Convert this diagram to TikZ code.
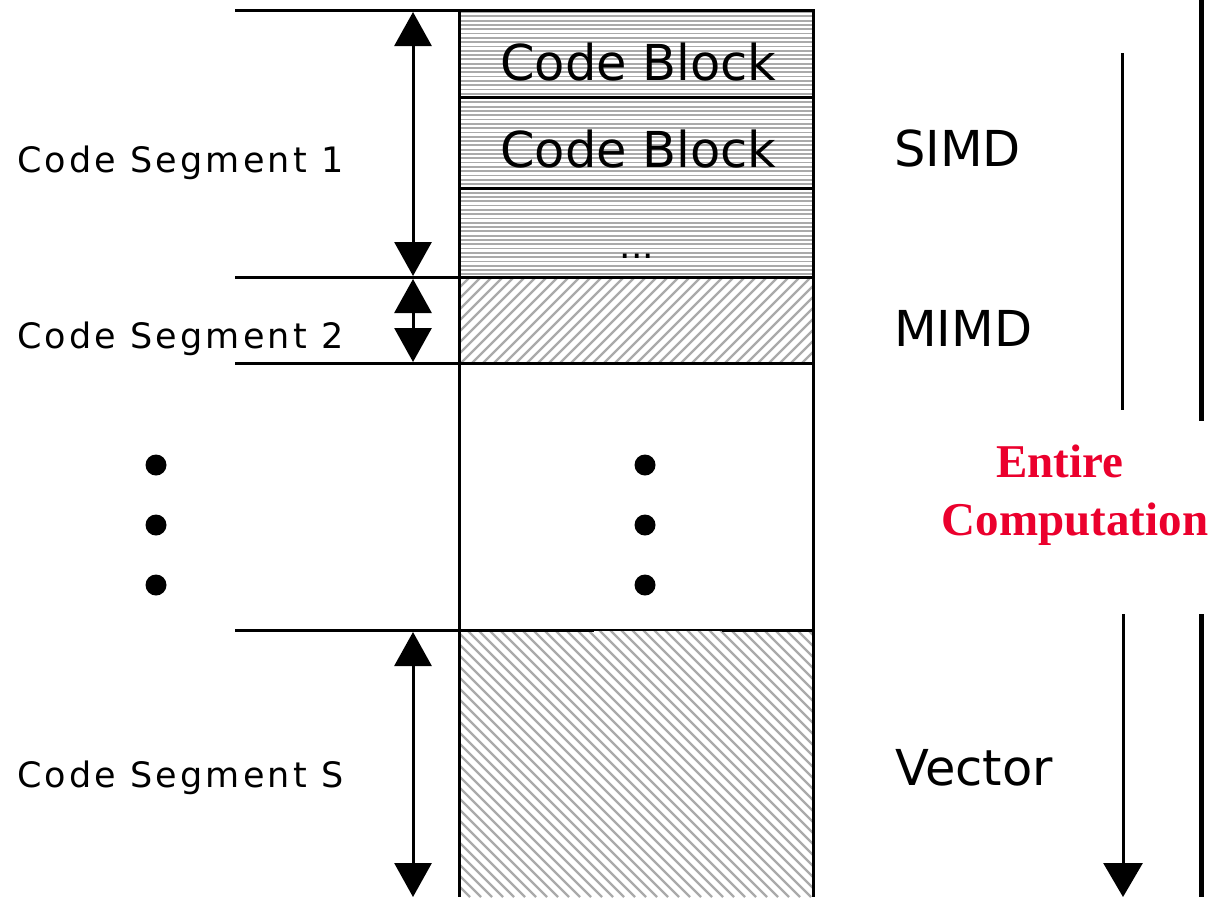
\documentclass[tikz,border=0pt]{standalone}
\usepackage{fontspec}
\usetikzlibrary{arrows.meta}
\newfontfamily\segfont[LetterSpace=9]{DejaVu Sans}
\newfontfamily\vfont{DejaVu Sans}
\newfontfamily\tfont{Liberation Serif}
\definecolor{ecred}{RGB}{235,0,45}
\definecolor{hatch}{RGB}{170,170,170}
\tikzset{
  rule/.style={line width=3pt, line cap=rect},
  bar/.style={line width=5pt},
  dim/.style={line width=3pt, {Triangle[length=34pt,width=37pt]}-{Triangle[length=34pt,width=37pt]}},
  flow/.style={line width=3pt, -{Triangle[length=34pt,width=39pt]}},
  seglabel/.style={anchor=base west, inner sep=0pt, font=\segfont\fontsize{35}{42}\selectfont},
  biglabel/.style={anchor=base west, inner sep=0pt, font=\vfont\fontsize{49.5}{58}\selectfont},
  redlabel/.style={anchor=base, inner sep=0pt, text=ecred, font=\tfont\bfseries\fontsize{47}{56}\selectfont},
  hline/.style={line width=1.8pt, draw=hatch},
  dot/.style={circle, fill=black, minimum size=21pt, inner sep=0pt}
}
\begin{document}
\begin{tikzpicture}[x=1pt,y=-1pt]
\useasboundingbox (0,0) rectangle (1222,897);
% hatching: SIMD blocks
\begin{scope}
\clip (459,10) rectangle (813,277);
\foreach \i in {0,...,62} { \draw[hline] (459,{12+4.3*\i}) -- (813,{12+4.3*\i}); }
\end{scope}
% hatching: MIMD segment
\begin{scope}
\clip (459,277) rectangle (813,363);
\foreach \i in {0,...,45} { \draw[hline,line width=2.2pt] ({373+11*\i},363) -- ({459+11*\i},277); }
\end{scope}
% hatching: Vector segment
\begin{scope}
\clip (459,630) rectangle (813,897);
\foreach \i in {0,...,60} { \draw[hline,line width=2.2pt] ({192+11*\i},630) -- ({459+11*\i},897); }
\end{scope}
% named coordinates
\coordinate (tl) at (236,10);   \coordinate (tr) at (813,10);
\coordinate (b1l) at (459,97);  \coordinate (b1r) at (813,97);
\coordinate (b2l) at (459,188); \coordinate (b2r) at (813,188);
\coordinate (s2l) at (236,277); \coordinate (s2r) at (813,277);
\coordinate (s3l) at (236,363); \coordinate (s3r) at (813,363);
\coordinate (sSl) at (236,630); \coordinate (gapA) at (592,630); \coordinate (gapB) at (723,630); \coordinate (sSr) at (813,630);
\coordinate (colLt) at (459,10); \coordinate (colLb) at (459,897);
\coordinate (colRt) at (813,10); \coordinate (colRb) at (813,897);
% rules
\draw[rule] (tl) -- (tr);
\draw[rule] (b1l) -- (b1r);
\draw[rule] (b2l) -- (b2r);
\draw[rule] (s2l) -- (s2r);
\draw[rule] (s3l) -- (s3r);
\draw[rule] (sSl) -- (gapA);
\draw[line width=1.5pt] (gapA) -- (gapB);
\draw[rule] (gapB) -- (sSr);
\draw[line width=3pt] (colLt) -- (colLb);
\draw[line width=3pt] (colRt) -- (colRb);
% dimension arrows
\coordinate (a1t) at (413,12);  \coordinate (a1b) at (413,276);
\coordinate (a2t) at (413,279); \coordinate (a2b) at (413,362);
\coordinate (a3t) at (413,632); \coordinate (a3b) at (413,897);
\draw[dim] (a1t) -- (a1b);
\draw[dim] (a2t) -- (a2b);
\draw[dim] (a3t) -- (a3b);
% right-hand lines
\coordinate (r1t) at (1122,53);  \coordinate (r1b) at (1122,410);
\coordinate (r2t) at (1201,0);   \coordinate (r2b) at (1201,421);
\coordinate (r3t) at (1123,614); \coordinate (r3b) at (1123,897);
\coordinate (r4t) at (1201,614); \coordinate (r4b) at (1201,897);
\draw[line width=3pt] (r1t) -- (r1b);
\draw[bar] (r2t) -- (r2b);
\draw[flow] (r3t) -- (r3b);
\draw[bar] (r4t) -- (r4b);
% labels
\node[seglabel] (cs1) at (17,172) {Code Segment 1};
\node[seglabel] (cs2) at (17,348) {Code Segment 2};
\node[seglabel] (csS) at (17,787) {Code Segment S};
\node[biglabel] (cb1) at (500,80) {Code Block};
\node[biglabel] (cb2) at (500,167) {Code Block};
\node[anchor=base, inner sep=0pt, font=\vfont\fontsize{36}{42}\selectfont] (ell) at (637,258) {...};
\node[biglabel] (simd) at (894,166) {SIMD};
\node[biglabel] (mimd) at (894,346) {MIMD};
\node[biglabel] (vec) at (895,785) {Vector};
\node[redlabel] (ent) at (1060,477) {Entire};
\node[redlabel] (comp) at (1075,535) {Computation};
% dots
\node[dot] (d1) at (156,465) {}; \node[dot] (d2) at (156,525) {}; \node[dot] (d3) at (156,585) {};
\node[dot] (d4) at (645,465) {}; \node[dot] (d5) at (645,525) {}; \node[dot] (d6) at (645,585) {};
\end{tikzpicture}
\end{document}
